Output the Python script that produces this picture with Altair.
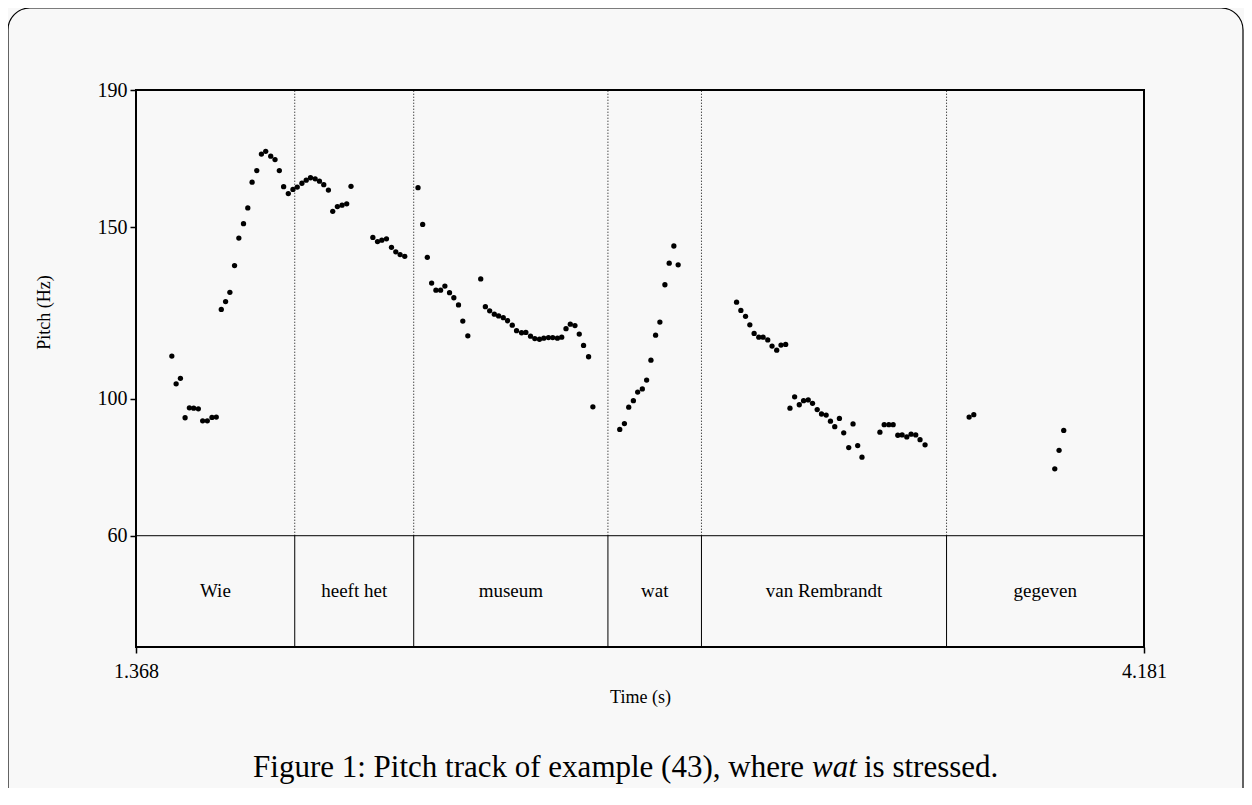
import altair as alt
import pandas as pd

# ---- pitch samples (time in s, pitch in Hz), per word ----
wie_time = [1.468, 1.480, 1.492, 1.505, 1.517, 1.529, 1.542, 1.554, 1.567, 1.580, 1.592,
            1.606, 1.618, 1.630, 1.643, 1.655, 1.668, 1.680, 1.692, 1.705, 1.718, 1.730,
            1.744, 1.756, 1.768, 1.780, 1.793, 1.806]
wie_pitch = [112.4, 104.3, 105.9, 94.4, 97.3, 97.2, 97.0, 93.5, 93.5, 94.5, 94.6,
             126.0, 128.3, 131.0, 138.8, 146.8, 151.0, 155.6, 163.1, 166.5, 171.3, 172.1,
             170.7, 169.7, 166.5, 161.8, 159.8, 161.0]

heeft_time = [1.818, 1.831, 1.843, 1.855, 1.868, 1.880, 1.892, 1.905, 1.917, 1.930, 1.943,
              1.956, 1.968, 2.029, 2.042, 2.054, 2.067, 2.081, 2.093, 2.105, 2.118]
heeft_pitch = [161.7, 162.8, 163.7, 164.4, 164.1, 163.4, 162.4, 160.8, 154.6, 156.0, 156.4,
               156.8, 161.9, 147.0, 145.8, 146.2, 146.6, 144.1, 142.8, 142.0, 141.5]

museum_time = [2.155, 2.168, 2.181, 2.193, 2.205, 2.218, 2.230, 2.243, 2.255, 2.268, 2.280,
               2.294, 2.330, 2.343, 2.355, 2.368, 2.380, 2.393, 2.405, 2.418, 2.430, 2.444,
               2.456, 2.469, 2.481, 2.494, 2.506, 2.519, 2.531, 2.544, 2.556, 2.568, 2.580,
               2.593, 2.605, 2.617, 2.631, 2.643]
museum_pitch = [161.5, 150.8, 141.2, 133.7, 131.6, 131.6, 132.8, 130.9, 129.4, 127.3, 122.6,
                118.3, 134.9, 126.8, 125.6, 124.6, 124.1, 123.6, 122.7, 121.4, 119.8, 119.2,
                119.3, 118.2, 117.5, 117.3, 117.6, 117.8, 117.8, 117.6, 117.9, 120.4, 121.7,
                121.3, 118.8, 115.5, 112.2, 97.6]

wat_time = [2.718, 2.731, 2.743, 2.756, 2.768, 2.781, 2.793, 2.805, 2.818, 2.830, 2.844,
            2.856, 2.869, 2.881]
wat_pitch = [91.0, 92.7, 97.5, 99.4, 101.9, 102.8, 105.4, 111.2, 118.5, 122.3, 133.2,
             139.5, 144.5, 139.0]

rembrandt_time = [3.044, 3.056, 3.069, 3.081, 3.093, 3.106, 3.118, 3.131, 3.143, 3.156, 3.168,
                  3.181, 3.193, 3.206, 3.219, 3.231, 3.244, 3.256, 3.269, 3.281, 3.294, 3.306,
                  3.318, 3.331, 3.343, 3.357, 3.369, 3.382, 3.394, 3.444, 3.456, 3.469, 3.481,
                  3.494, 3.506, 3.519, 3.531, 3.544, 3.556, 3.570]
rembrandt_pitch = [128.1, 125.7, 124.0, 121.5, 119.0, 117.9, 117.9, 117.1, 115.3, 114.1, 115.6,
                   115.8, 97.2, 100.5, 98.2, 99.4, 99.6, 98.6, 96.8, 95.5, 95.2, 93.4,
                   91.8, 94.2, 90.0, 85.7, 92.6, 86.3, 82.9, 90.2, 92.4, 92.4, 92.4,
                   89.3, 89.4, 88.8, 89.6, 89.4, 88.0, 86.5]

gegeven_time = [3.693, 3.706, 3.932, 3.944, 3.957]
gegeven_pitch = [94.6, 95.3, 79.5, 84.9, 90.7]

# ---- text tier ----
words = ["Wie", "heeft het", "museum", "wat", "van Rembrandt", "gegeven"]
boundaries = [1.811, 2.143, 2.685, 2.946, 3.630]

# ---- axes ----
t_start, t_end = 1.368, 4.181
pitch_ticks = [60, 100, 150, 190]
tier_floor = 27.54  # bottom of the text tier, in the pitch scale's units

caption_left = "Figure 1: Pitch track of example (43), where"
caption_em = "wat"
caption_right = "is stressed."

# ---- build tables ----
times = wie_time + heeft_time + museum_time + wat_time + rembrandt_time + gegeven_time
pitches = wie_pitch + heeft_pitch + museum_pitch + wat_pitch + rembrandt_pitch + gegeven_pitch
pts = pd.DataFrame({"t": times, "f": pitches})

edges = [t_start] + boundaries + [t_end]
tier = pd.DataFrame({"word": words,
                     "mid": [(edges[i] + edges[i + 1]) / 2 for i in range(len(words))]})
bnd = pd.DataFrame({"t": boundaries})

W, H = 1008, 557
SERIF = "Liberation Serif"

xs = alt.Scale(domain=[t_start, t_end], nice=False, zero=False)
ys = alt.Scale(domain=[tier_floor, 190], nice=False, zero=False)

points = alt.Chart(pts).mark_circle(size=28, color="black", opacity=1).encode(
    x=alt.X("t:Q", scale=xs, title="Time (s)",
            axis=alt.Axis(values=[t_start, t_end], format=".3f", grid=False, domain=False,
                          tickSize=6, tickColor="black", tickWidth=1.5,
                          labelFlush=False, labelOverlap=False, labelPadding=8,
                          labelFont=SERIF, labelFontSize=20, labelColor="black",
                          titleFont=SERIF, titleFontSize=18, titleFontWeight="normal",
                          titleColor="black", titlePadding=7)),
    y=alt.Y("f:Q", scale=ys, title="Pitch (Hz)",
            axis=alt.Axis(values=pitch_ticks, grid=False, domain=False,
                          tickSize=6, tickColor="black", tickWidth=1.5, labelPadding=3,
                          labelFont=SERIF, labelFontSize=20, labelColor="black",
                          titleFont=SERIF, titleFontSize=18, titleFontWeight="normal",
                          titleColor="black", titleAngle=270, titleX=-92, titleY=222,
                          titleAlign="center", titleBaseline="middle")),
)

dotted = alt.Chart(bnd).mark_rule(color="black", strokeWidth=1, strokeDash=[1, 2]).encode(
    x=alt.X("t:Q", scale=xs), y=alt.datum(60, scale=ys), y2=alt.datum(190))

solid = alt.Chart(bnd).mark_rule(color="black", strokeWidth=1).encode(
    x=alt.X("t:Q", scale=xs), y=alt.datum(tier_floor), y2=alt.datum(60))

floor60 = alt.Chart(pd.DataFrame({"f": [60]})).mark_rule(color="black", strokeWidth=1).encode(
    y=alt.Y("f:Q", scale=ys))

labels = alt.Chart(tier).mark_text(font=SERIF, fontSize=19, color="black",
                                   baseline="middle", align="center").encode(
    x=alt.X("mid:Q", scale=xs), y=alt.value(501), text="word:N")

frame = alt.Chart(pd.DataFrame({"k": [0]})).mark_rect(
    fillOpacity=0, stroke="black", strokeWidth=1.2, cornerRadius=22).encode(
    x=alt.value(-128), x2=alt.value(1107), y=alt.value(-82), y2=alt.value(760))

cap = pd.DataFrame({"a": [caption_left], "b": [caption_em], "c": [caption_right]})
cap_l = alt.Chart(cap).mark_text(font=SERIF, fontSize=31, color="black", align="right",
                                 baseline="alphabetic").encode(
    x=alt.value(668), y=alt.value(687), text="a:N")
cap_m = alt.Chart(cap).mark_text(font=SERIF, fontSize=31, fontStyle="italic", color="black",
                                 align="left", baseline="alphabetic").encode(
    x=alt.value(676), y=alt.value(687), text="b:N")
cap_r = alt.Chart(cap).mark_text(font=SERIF, fontSize=31, color="black", align="left",
                                 baseline="alphabetic").encode(
    x=alt.value(728), y=alt.value(687), text="c:N")

chart = alt.layer(frame, dotted, solid, floor60, points, labels, cap_l, cap_m, cap_r).properties(
    width=W, height=H,
    autosize=alt.AutoSizeParams(type="none"),
    padding={"left": 128, "top": 82, "right": 100, "bottom": 141},
    background="#f8f8f8",
).configure_view(stroke="black", strokeWidth=2)

chart.save("out.html", embed_options={"renderer": "svg", "actions": False})
